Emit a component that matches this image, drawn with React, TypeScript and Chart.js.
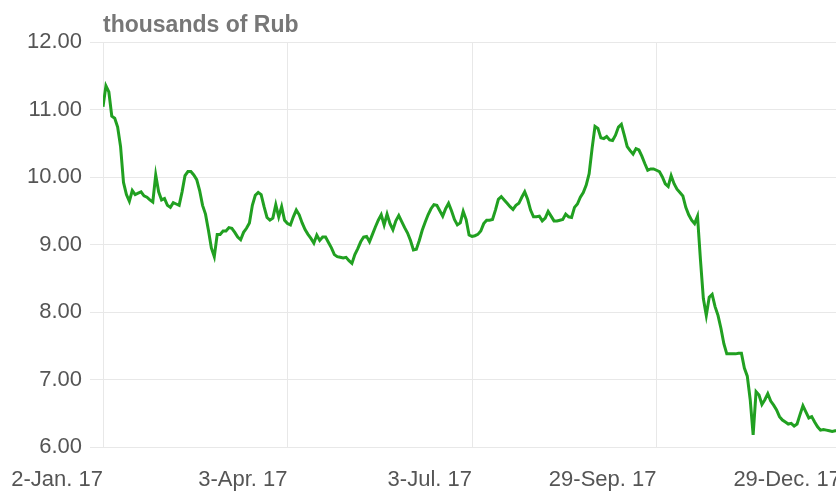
import React, { useEffect, useRef } from "react";
import { Chart, registerables } from "chart.js";

Chart.register(...registerables);

// Trading-day index (0 = 2-Jan. 17) and value in thousands of Rub
const tickLabels: Record<number, string> = {
  0: "2-Jan. 17",
  63: "3-Apr. 17",
  126: "3-Jul. 17",
  189: "29-Sep. 17",
  252: "29-Dec. 17",
};

const unitTitle = "thousands of Rub";

const values: number[] = [
  11.04, 11.35, 11.26, 10.9, 10.87, 10.74, 10.45, 9.92, 9.74, 9.64,
  9.8, 9.74, 9.76, 9.78, 9.72, 9.7, 9.66, 9.63, 10.03, 9.78,
  9.66, 9.68, 9.58, 9.55, 9.62, 9.6, 9.58, 9.78, 10.02, 10.08,
  10.08, 10.03, 9.96, 9.8, 9.58, 9.45, 9.21, 8.95, 8.82, 9.15,
  9.15, 9.2, 9.2, 9.25, 9.24, 9.18, 9.11, 9.07, 9.18, 9.24,
  9.32, 9.58, 9.73, 9.77, 9.74, 9.56, 9.4, 9.36, 9.39, 9.59,
  9.41, 9.56, 9.36, 9.31, 9.29, 9.41, 9.51, 9.44, 9.32, 9.22,
  9.15, 9.09, 9.02, 9.14, 9.06, 9.11, 9.11, 9.03, 8.95, 8.85,
  8.82, 8.81, 8.8, 8.81, 8.76, 8.72, 8.85, 8.94, 9.04, 9.11,
  9.12, 9.04, 9.15, 9.26, 9.36, 9.44, 9.29, 9.45, 9.31, 9.22,
  9.35, 9.43, 9.34, 9.25, 9.17, 9.06, 8.92, 8.93, 9.06, 9.21,
  9.33, 9.44, 9.53, 9.59, 9.58, 9.5, 9.42, 9.53, 9.61, 9.5,
  9.37, 9.29, 9.32, 9.49, 9.37, 9.14, 9.12, 9.13, 9.15, 9.2,
  9.31, 9.36, 9.36, 9.37, 9.51, 9.67, 9.71, 9.66, 9.61, 9.56,
  9.52, 9.58, 9.61, 9.7, 9.78, 9.67, 9.51, 9.41, 9.41, 9.42,
  9.35, 9.39, 9.49, 9.42, 9.35, 9.35, 9.36, 9.37, 9.45, 9.41,
  9.4, 9.55, 9.6, 9.7, 9.77, 9.88, 10.05, 10.42, 10.75, 10.72,
  10.58, 10.57, 10.6, 10.55, 10.54, 10.62, 10.74, 10.78, 10.62, 10.45,
  10.39, 10.34, 10.42, 10.4, 10.31, 10.2, 10.1, 10.12, 10.12, 10.1,
  10.08, 10.0, 9.9, 9.86, 10.02, 9.9, 9.82, 9.77, 9.72, 9.55,
  9.44, 9.36, 9.31, 9.42, 8.78, 8.2, 7.95, 8.22, 8.26, 8.08,
  7.95, 7.76, 7.53, 7.38, 7.38, 7.38, 7.38, 7.39, 7.39, 7.17,
  7.05, 6.7, 6.18, 6.82, 6.77, 6.63, 6.7, 6.79, 6.68, 6.62,
  6.55, 6.45, 6.4, 6.37, 6.34, 6.35, 6.31, 6.34, 6.48, 6.61,
  6.52, 6.43, 6.45, 6.37, 6.3, 6.25, 6.26, 6.25, 6.24, 6.23,
  6.24, 6.24, 6.25,
];

const FONT = "'Liberation Sans', Arial, sans-serif";

export default function App() {
  const ref = useRef<HTMLCanvasElement | null>(null);

  useEffect(() => {
    if (!ref.current) return;
    const titlePlugin = {
      id: "unitTitle",
      afterDraw(chart: any) {
        const { ctx, chartArea } = chart;
        ctx.save();
        ctx.font = `bold 23px ${FONT}`;
        ctx.fillStyle = "#777777";
        ctx.textAlign = "left";
        ctx.textBaseline = "alphabetic";
        ctx.fillText(unitTitle, chartArea.left, 32);
        ctx.restore();
      },
    };
    const chart = new Chart(ref.current, {
      type: "line",
      data: {
        datasets: [
          {
            data: values.map((v, i) => ({ x: i, y: v })),
            borderColor: "#21a021",
            borderWidth: 3,
            pointRadius: 0,
            tension: 0,
            fill: false,
          },
        ],
      },
      options: {
        responsive: false,
        animation: false,
        events: [],
        layout: { padding: { top: 42, right: 0, bottom: 0, left: 0 } },
        plugins: {
          legend: { display: false },
          tooltip: { enabled: false },
          title: { display: false },
        },
        scales: {
          x: {
            type: "linear",
            min: 0,
            max: 252,
            border: { display: false },
            grid: { color: "#e8e8e8", lineWidth: 1, drawTicks: false },
            afterBuildTicks: (s: any) => {
              s.ticks = Object.keys(tickLabels).map((k) => ({ value: Number(k) }));
            },
            afterFit: (s: any) => {
              s.height = 44;
              s.paddingLeft = 0;
              s.paddingRight = 0;
            },
            ticks: {
              autoSkip: false,
              maxRotation: 0,
              minRotation: 0,
              align: "end",
              padding: 20,
              color: "#555555",
              font: { family: FONT, size: 22 },
              callback: (v: any) => tickLabels[Number(v)] ?? null,
            },
          },
          y: {
            min: 6,
            max: 12,
            border: { display: false },
            grid: { color: "#e8e8e8", lineWidth: 1, tickLength: 13 },
            afterFit: (s: any) => {
              s.width = 103;
            },
            ticks: {
              stepSize: 1,
              padding: 8,
              color: "#555555",
              font: { family: FONT, size: 22 },
              callback: (v: any) => Number(v).toFixed(2),
            },
          },
        },
      },
      plugins: [titlePlugin],
    });
    return () => chart.destroy();
  }, []);

  return (
    <div
      style={{
        position: "fixed",
        left: 0,
        top: 0,
        width: 836,
        height: 491,
        overflow: "hidden",
        background: "#ffffff",
      }}
    >
      <canvas ref={ref} width={841} height={491} style={{ display: "block" }} />
    </div>
  );
}
